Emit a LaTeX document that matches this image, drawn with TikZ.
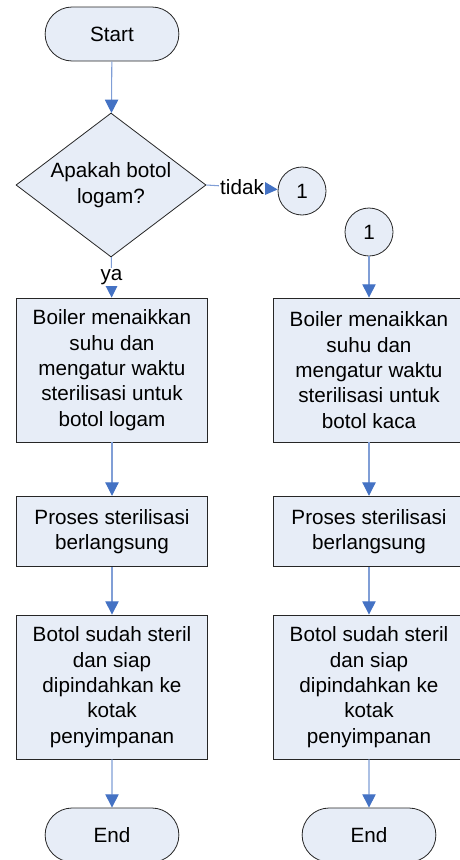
\documentclass[tikz,border=0pt]{standalone}
\usepackage{fontspec}
\setmainfont{Liberation Sans}
\usetikzlibrary{arrows.meta,shapes}
\definecolor{boxfill}{RGB}{231,237,247}
\definecolor{lineblue}{RGB}{128,158,214}
\definecolor{headblue}{RGB}{68,114,196}
\tikzstyle{terminal}=[rounded rectangle,draw=black!85,line width=0.6pt,fill=boxfill,minimum width=107pt,minimum height=40.5pt]
\tikzstyle{decision}=[diamond,draw=black!85,line width=0.6pt,fill=boxfill,aspect=1.32,inner sep=0pt,minimum width=142.5pt,minimum height=108pt,align=center]
\tikzstyle{process}=[rectangle,draw=black!85,line width=0.6pt,fill=boxfill,minimum width=143pt,align=center]
\tikzstyle{connector}=[circle,draw=black!85,line width=0.6pt,fill=boxfill,minimum size=36pt,inner sep=0pt]
\tikzstyle{flow}=[draw=lineblue,line width=0.8pt,-{Triangle[length=10pt,width=10pt,color=headblue]}]
\tikzstyle{lbl}=[fill=white,inner sep=1pt]

\begin{document}
\begin{tikzpicture}[x=0.75pt,y=-0.75pt,every node/.style={font=\fontsize{15.5}{19}\selectfont}]
    \clip (0,0) rectangle (460,860);
    % Start and the question
    \node[terminal] (start) at (112,34) {Start};
    \node[decision] (dec) at (111,185) {Apakah botol\\logam?};
    \node[connector] (c1) at (302,191) {1};
    \node[connector] (c2) at (369,232) {1};
    % Both columns, one for each kind of bottle
    \foreach \col/\x/\jenis in {L/112/logam, R/369/kaca} {
        \node[process,minimum height=108pt] (boil\col) at (\x,370) {Boiler menaikkan\\suhu dan\\mengatur waktu\\sterilisasi untuk\\botol \jenis};
        \node[process,minimum height=53pt] (pros\col) at (\x,531.5) {Proses sterilisasi\\berlangsung};
        \node[process,minimum height=108pt] (steril\col) at (\x,687) {Botol sudah steril\\dan siap\\dipindahkan ke\\kotak\\penyimpanan};
        \node[terminal] (end\col) at (\x,835) {End};
    }
    % Connect them
    \path[flow] (start) -- (dec);
    \path[flow] (dec) -- node[lbl] {ya} (boilL);
    \path[flow] (dec.east) -- node[lbl] {tidak} (c1);
    \foreach \source/\dest in {c2/boilR, boilL/prosL, prosL/sterilL, sterilL/endL, boilR/prosR, prosR/sterilR, sterilR/endR}
        \path[flow] (\source) -- (\dest);
\end{tikzpicture}
\end{document}
